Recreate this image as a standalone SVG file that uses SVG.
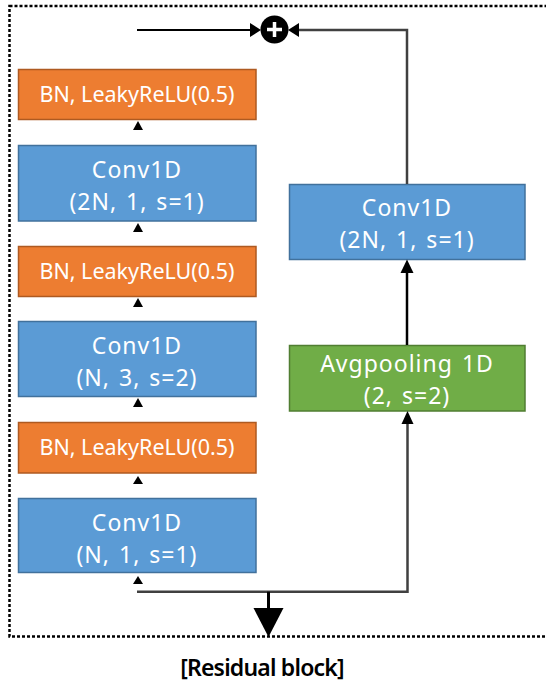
<svg xmlns="http://www.w3.org/2000/svg" width="546" height="685" viewBox="0 0 546 685">
<style>
  .blue{fill:#5B9BD5;stroke:#41719C;stroke-width:1.5}
  .orange{fill:#ED7D31;stroke:#AE5A21;stroke-width:1.5}
  .green{fill:#70AD47;stroke:#507E32;stroke-width:1.5}
  .t{font-family:"Noto Sans","Open Sans",sans-serif;fill:#fff;text-anchor:middle}
  .big{font-size:23px;letter-spacing:1px;word-spacing:2px}
  .small{font-size:21.5px}
  .tri{fill:#000}
  .ln{fill:none;stroke:#404040;stroke-width:2.5}
  .blk{fill:none;stroke:#000;stroke-width:2.5}
</style>
<rect x="9.5" y="6" width="600" height="630.5" fill="none" stroke="#000" stroke-width="2.5" stroke-dasharray="3 2"/>

<g id="bn1"><rect class="orange" x="18.5" y="69.5" width="237.5" height="50"/><text class="t small" x="137" y="102">BN, LeakyReLU(0.5)</text></g>
<g id="conv1"><rect class="blue" x="18.5" y="145.5" width="237.5" height="75.5"/><text class="t big" x="137" y="178">Conv1D</text><text class="t big" x="137" y="210">(2N, 1, s=1)</text></g>
<g id="bn2"><rect class="orange" x="18.5" y="246.5" width="237.5" height="50"/><text class="t small" x="137" y="279">BN, LeakyReLU(0.5)</text></g>
<g id="conv2"><rect class="blue" x="18.5" y="321.5" width="237.5" height="75"/><text class="t big" x="137" y="354">Conv1D</text><text class="t big" x="137" y="386">(N, 3, s=2)</text></g>
<g id="bn3"><rect class="orange" x="18.5" y="422.5" width="237.5" height="50.5"/><text class="t small" x="137" y="455">BN, LeakyReLU(0.5)</text></g>
<g id="conv3"><rect class="blue" x="18.5" y="498.5" width="237.5" height="74"/><text class="t big" x="137" y="531">Conv1D</text><text class="t big" x="137" y="563">(N, 1, s=1)</text></g>
<g id="conv4"><rect class="blue" x="289.5" y="184.5" width="235.5" height="75"/><text class="t big" x="407" y="216">Conv1D</text><text class="t big" x="407" y="248">(2N, 1, s=1)</text></g>
<g id="pool"><rect class="green" x="289.5" y="345.5" width="235.5" height="65.5"/><text class="t big" x="407" y="372">Avgpooling 1D</text><text class="t big" x="407" y="404">(2, s=2)</text></g>
<g id="add"><circle cx="274.5" cy="29.5" r="14" fill="#000"/><path d="M274.5 22V37M267 29.5H282" stroke="#fff" stroke-width="3.5"/></g>

<g id="connectors">
  <polygon class="tri" points="138,121 133,130 143,130"/>
  <polygon class="tri" points="138,223 133,232 143,232"/>
  <polygon class="tri" points="138,298 133,307 143,307"/>
  <polygon class="tri" points="138,398 133,407 143,407"/>
  <polygon class="tri" points="138,476 133,484 143,484"/>
  <polygon class="tri" points="138,576 133,584 143,584"/>
  <path d="M137 30H252" stroke="#000" stroke-width="2" fill="none"/>
  <polygon class="tri" points="261,30 250,23 250,37"/>
  <path class="ln" d="M407 184V30H298"/>
  <polygon class="tri" points="288,30 299,23 299,37"/>
  <path class="blk" d="M407 345V272"/>
  <polygon class="tri" points="407,259.5 400.5,273 413.5,273"/>
  <path class="ln" d="M137 591.7H407.5V422"/>
  <polygon class="tri" points="407.5,411 401.5,424 413.5,424"/>
  <path d="M268.5 591.7V612" stroke="#000" stroke-width="3" fill="none"/>
  <polygon class="tri" points="268.5,637 253.5,608 283.5,608"/>
</g>
<text x="262" y="676" font-family="Noto Sans,sans-serif" font-size="23" font-weight="600" letter-spacing="-0.8" text-anchor="middle" fill="#000">[Residual block]</text>
</svg>
